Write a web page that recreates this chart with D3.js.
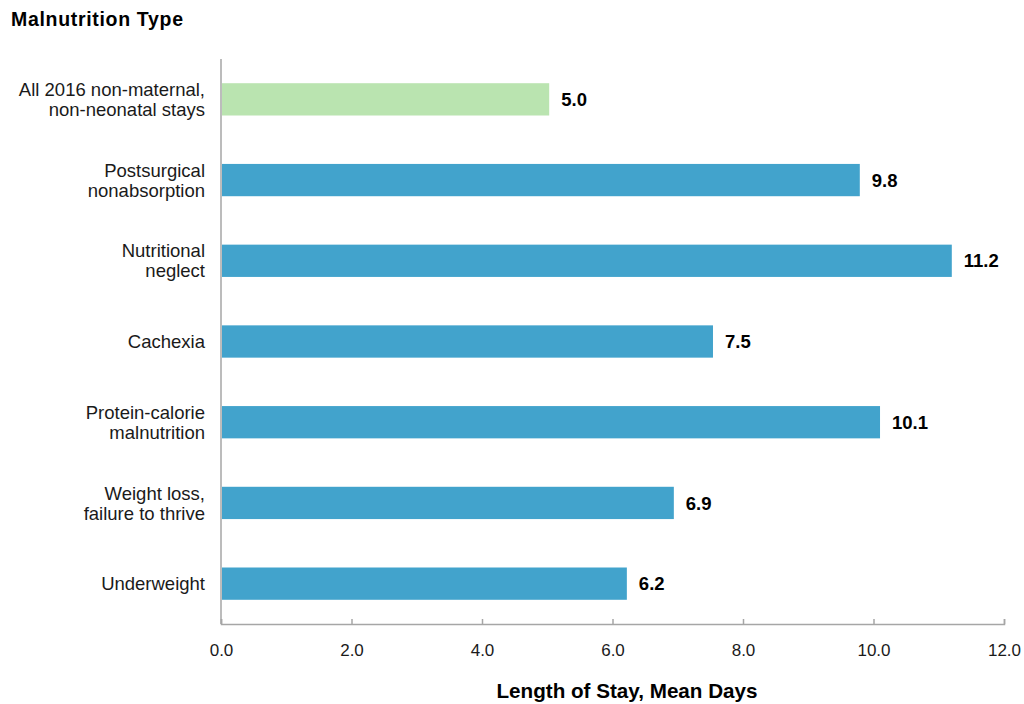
<!DOCTYPE html>
<html><head><meta charset="utf-8">
<script src="https://cdn.jsdelivr.net/npm/d3@7"></script>
<style>body{margin:0;background:#fff;font-family:"Liberation Sans",Arial,sans-serif;}</style>
</head><body>
<svg id="c" width="1024" height="704"></svg>
<script>
const categories = [
  ["All 2016 non-maternal,", "non-neonatal stays"],
  ["Postsurgical", "nonabsorption"],
  ["Nutritional", "neglect"],
  ["Cachexia"],
  ["Protein-calorie", "malnutrition"],
  ["Weight loss,", "failure to thrive"],
  ["Underweight"]
];
const values = [5.03, 9.79, 11.2, 7.54, 10.1, 6.94, 6.22];
const highlight = [true, false, false, false, false, false, false];
const xTicks = [0, 2, 4, 6, 8, 10, 12];

(function () {
const svg = d3.select("#c");
const pLeft = 221, pRight = 1004, pTop = 59, pBottom = 624;
const x = d3.scaleLinear().domain([0, 12]).range([pLeft, pRight]);
const y = d3.scaleBand().domain(d3.range(categories.length)).range([pTop, pBottom]).paddingInner(0.6).paddingOuter(0.3);

svg.append("text").attr("x", 11).attr("y", 26).attr("font-size", 19.5).attr("font-weight", "bold").attr("fill", "#000")
  .attr("textLength", 172).attr("lengthAdjust", "spacing").text("Malnutrition Type");

// bars
svg.selectAll("rect.bar").data(values).join("rect")
  .attr("x", x(0) + 1).attr("y", (d, i) => y(i))
  .attr("width", d => x(d) - x(0) - 1).attr("height", y.bandwidth())
  .attr("fill", (d, i) => highlight[i] ? "#bae4b0" : "#42a3cc");

// value labels
svg.selectAll("text.val").data(values).join("text")
  .attr("x", d => x(d) + 12).attr("y", (d, i) => y(i) + y.bandwidth() / 2)
  .attr("dy", "0.36em").attr("font-size", 18.5).attr("font-weight", "bold").attr("fill", "#000")
  .text(d => d.toFixed(1));

// category labels
categories.forEach((lines, i) => {
  const cy = y(i) + y.bandwidth() / 2;
  const t = svg.append("text").attr("text-anchor", "end").attr("font-size", 18.5).attr("fill", "#1a1a1a");
  lines.forEach((l, j) => {
    t.append("tspan").attr("x", 205).attr("y", cy + (j - (lines.length - 1) / 2) * 20).attr("dy", "0.36em").text(l);
  });
});

// y axis line
svg.append("line").attr("x1", pLeft).attr("x2", pLeft).attr("y1", pTop).attr("y2", pBottom).attr("stroke", "#a6a6a6").attr("stroke-width", 1.5);

// x axis
const xa = svg.append("g").attr("transform", `translate(0,${pBottom})`)
  .call(d3.axisBottom(x).tickValues(xTicks).tickSize(-5).tickPadding(20).tickFormat(d3.format(".1f")));
xa.select(".domain").attr("stroke", "#a6a6a6").attr("stroke-width", 1.5);
xa.selectAll(".tick line").attr("stroke", "#a6a6a6").attr("stroke-width", 1.5);
xa.selectAll(".tick text").attr("font-size", 17).attr("font-family", "Liberation Sans, Arial, sans-serif").attr("fill", "#1a1a1a");

svg.append("text").attr("x", 627).attr("y", 698).attr("text-anchor", "middle").attr("font-size", 20.5).attr("font-weight", "bold").attr("fill", "#000")
  .attr("textLength", 261).attr("lengthAdjust", "spacingAndGlyphs").text("Length of Stay, Mean Days");
})();
</script>
</body></html>
